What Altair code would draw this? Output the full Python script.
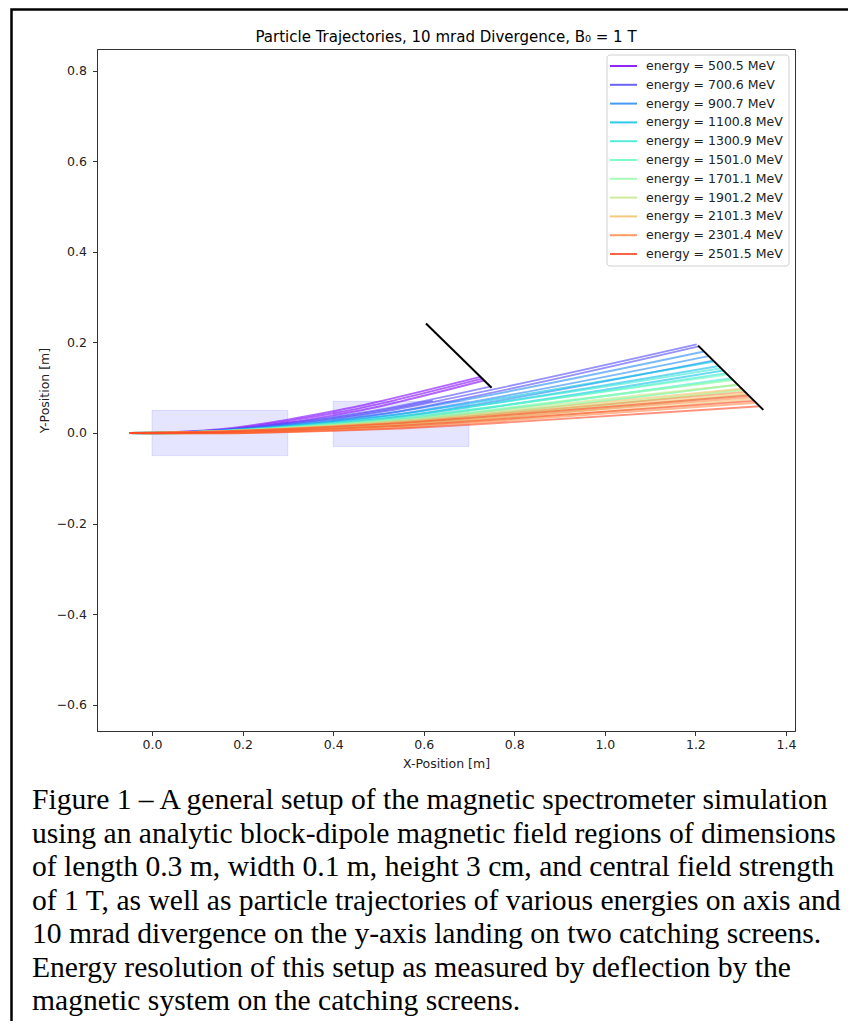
import altair as alt
import pandas as pd

# ---------------- data ----------------
ENERGY_LABELS = ["energy = 500.5 MeV", "energy = 700.6 MeV", "energy = 900.7 MeV",
                 "energy = 1100.8 MeV", "energy = 1300.9 MeV", "energy = 1501.0 MeV",
                 "energy = 1701.1 MeV", "energy = 1901.2 MeV", "energy = 2101.3 MeV",
                 "energy = 2301.4 MeV", "energy = 2501.5 MeV"]
ENERGY_COLORS = ["#8000ff", "#5148fc", "#238af5", "#0bc1e8", "#3ae8d6", "#68fcc1",
                 "#97fca7", "#c5e88a", "#f3c16a", "#ff8a48", "#ff4824"]

# low-energy rays (leave the field region, own x stations)
X_0500 = [[-0.05, 0.0, 0.15, 0.3, 0.4, 0.475, 0.5495, 0.733],
          [-0.05, 0.0, 0.15, 0.3, 0.4, 0.46, 0.526, 0.729],
          [-0.05, 0.0, 0.15, 0.3, 0.4, 0.45, 0.503, 0.725]]
Y_0500 = [[0.0, -0.0005, 0.0045, 0.0226, 0.039, 0.0529, 0.070, 0.116],
          [0.0, 0.0, 0.0065, 0.0261, 0.0435, 0.0550, 0.070, 0.120],
          [0.0, 0.0005, 0.0085, 0.0296, 0.048, 0.0579, 0.070, 0.1241]]
X_0700 = [[-0.05, 0.0, 0.15, 0.3, 0.4, 0.53, 0.659, 1.2075],
          [-0.05, 0.0, 0.15, 0.3, 0.4, 0.52, 0.627, 1.203],
          [-0.05, 0.0, 0.15, 0.3, 0.4, 0.5, 0.597, 0.747],
          [-0.05, 0.0, 0.15, 0.3, 0.4, 0.52, 0.62]]
Y_0700 = [[0.0, -0.0005, 0.0027, 0.0151, 0.0266, 0.0449, 0.070, 0.1914],
          [0.0, 0.0, 0.0047, 0.0186, 0.0311, 0.0490, 0.070, 0.1957],
          [0.0, 0.0005, 0.0067, 0.0221, 0.0356, 0.0511, 0.070, 0.1024],
          [0.0, 0.0002, 0.0055, 0.0200, 0.0330, 0.0520, 0.0715]]

# higher-energy rays: y at common stations, then the landing point on screen 2
STATION_X = [-0.05, 0.0, 0.15, 0.3, 0.4, 0.55, 0.7]
Y_0900 = [[0.0, -0.0005, 0.0016, 0.0110, 0.0197, 0.0363, 0.0602],
          [0.0, 0.0, 0.0036, 0.0145, 0.0242, 0.0423, 0.0677],
          [0.0, 0.0005, 0.0056, 0.0180, 0.0287, 0.0483, 0.0752]]
END_0900 = [(1.239, 0.160), (1.229, 0.170), (1.219, 0.180)]
Y_1100 = [[0.0, -0.0005, 0.0011, 0.0088, 0.0160, 0.0299, 0.0500],
          [0.0, 0.0, 0.0031, 0.0123, 0.0205, 0.0359, 0.0575],
          [0.0, 0.0005, 0.0051, 0.0158, 0.0250, 0.0419, 0.0650]]
END_1100 = [(1.262, 0.138), (1.252, 0.148), (1.241, 0.158)]
Y_1300 = [[0.0, -0.0005, 0.0007, 0.0073, 0.0135, 0.0255, 0.0428],
          [0.0, 0.0, 0.0027, 0.0108, 0.0180, 0.0315, 0.0503],
          [0.0, 0.0005, 0.0047, 0.0143, 0.0225, 0.0375, 0.0578]]
END_1300 = [(1.279, 0.121), (1.268, 0.132), (1.257, 0.143)]
Y_1501 = [[0.0, -0.0005, 0.0004, 0.0060, 0.0113, 0.0217, 0.0368],
          [0.0, 0.0, 0.0024, 0.0095, 0.0158, 0.0277, 0.0443],
          [0.0, 0.0005, 0.0044, 0.0130, 0.0203, 0.0337, 0.0518]]
END_1501 = [(1.293, 0.107), (1.282, 0.118), (1.271, 0.129)]
Y_1701 = [[0.0, -0.0005, 0.0001, 0.0049, 0.0095, 0.0186, 0.0318],
          [0.0, 0.0, 0.0021, 0.0084, 0.0140, 0.0246, 0.0393],
          [0.0, 0.0005, 0.0041, 0.0119, 0.0185, 0.0306, 0.0468]]
END_1701 = [(1.306, 0.095), (1.294, 0.106), (1.283, 0.117)]
Y_1901 = [[0.0, -0.0005, -0.0001, 0.0040, 0.0081, 0.0160, 0.0277],
          [0.0, 0.0, 0.0019, 0.0075, 0.0126, 0.0220, 0.0352],
          [0.0, 0.0005, 0.0039, 0.0110, 0.0171, 0.0280, 0.0427]]
END_1901 = [(1.316, 0.085), (1.304, 0.096), (1.293, 0.107)]
Y_2101 = [[0.0, -0.0005, -0.0003, 0.0033, 0.0068, 0.0138, 0.0241],
          [0.0, 0.0, 0.0017, 0.0068, 0.0113, 0.0198, 0.0316],
          [0.0, 0.0005, 0.0037, 0.0103, 0.0158, 0.0258, 0.0391]]
END_2101 = [(1.325, 0.075), (1.313, 0.087), (1.302, 0.098)]
Y_2301 = [[0.0, -0.0005, -0.0005, 0.0026, 0.0057, 0.0118, 0.0210],
          [0.0, 0.0, 0.0015, 0.0061, 0.0102, 0.0178, 0.0285],
          [0.0, 0.0005, 0.0035, 0.0096, 0.0147, 0.0238, 0.0360]]
END_2301 = [(1.334, 0.067), (1.322, 0.079), (1.310, 0.091)]
Y_2501 = [[0.0, -0.0005, -0.0006, 0.0019, 0.0046, 0.0099, 0.0179],
          [0.0, 0.0, 0.0014, 0.0054, 0.0091, 0.0159, 0.0254],
          [0.0, 0.0005, 0.0034, 0.0089, 0.0136, 0.0219, 0.0329]]
END_2501 = [(1.342, 0.059), (1.330, 0.071), (1.318, 0.083)]

# magnets (block dipoles) and catching screens
MAG_X0 = [0.0, 0.4]
MAG_X1 = [0.3, 0.7]
MAG_Y0 = [-0.05, -0.03]
MAG_Y1 = [0.05, 0.07]
SCREEN_X = [[0.605, 0.75], [1.206, 1.35]]
SCREEN_Y = [[0.242, 0.100], [0.193, 0.051]]

X_TICKS = [0.0, 0.2, 0.4, 0.6, 0.8, 1.0, 1.2, 1.4]
Y_TICKS = [-0.6, -0.4, -0.2, 0.0, 0.2, 0.4, 0.6, 0.8]

TITLE = "Particle Trajectories, 10 mrad Divergence, B\u2080 = 1 T"
CAPTION = [
    "Figure 1 \u2013 A general setup of the magnetic spectrometer simulation",
    "using an analytic block-dipole magnetic field regions of dimensions",
    "of length 0.3 m, width 0.1 m, height 3 cm, and central field strength",
    "of 1 T, as well as particle trajectories of various energies on axis and",
    "10 mrad divergence on the y-axis landing on two catching screens.",
    "Energy resolution of this setup as measured by deflection by the",
    "magnetic system on the catching screens.",
]

# ---------------- build tables ----------------
rows = []
ray_id = 0


def add_ray(label, xs, ys):
    global ray_id
    for i, (xv, yv) in enumerate(zip(xs, ys)):
        rows.append({"energy": label, "ray": ray_id, "i": i, "x": xv, "y": yv})
    ray_id += 1


for xs, ys in zip(X_0500, Y_0500):
    add_ray(ENERGY_LABELS[0], xs, ys)
for xs, ys in zip(X_0700, Y_0700):
    add_ray(ENERGY_LABELS[1], xs, ys)
regular = [(Y_0900, END_0900), (Y_1100, END_1100), (Y_1300, END_1300),
           (Y_1501, END_1501), (Y_1701, END_1701), (Y_1901, END_1901),
           (Y_2101, END_2101), (Y_2301, END_2301), (Y_2501, END_2501)]
for k, (ylist, ends) in enumerate(regular):
    for ys, (xe, ye) in zip(ylist, ends):
        add_ray(ENERGY_LABELS[k + 2], STATION_X + [xe], ys + [ye])
traj = pd.DataFrame(rows)

mags = pd.DataFrame({"x0": MAG_X0, "x1": MAG_X1, "y0": MAG_Y0, "y1": MAG_Y1})
scr_rows = []
for s, (xs, ys) in enumerate(zip(SCREEN_X, SCREEN_Y)):
    for xv, yv in zip(xs, ys):
        scr_rows.append({"s": s, "x": xv, "y": yv})
screens = pd.DataFrame(scr_rows)
legend_df = pd.DataFrame({"energy": ENERGY_LABELS, "row": list(range(len(ENERGY_LABELS)))})
one = pd.DataFrame({"t": ["\n".join(CAPTION)], "title": [TITLE]})

# ---------------- chart ----------------
xs_ = alt.Scale(domain=[-0.1215, 1.42], nice=False, zero=False)
ys_ = alt.Scale(domain=[-0.6585, 0.8485], nice=False, zero=False)
FONT = "DejaVu Sans"
color_scale = alt.Scale(domain=ENERGY_LABELS, range=ENERGY_COLORS)

x_axis = alt.Axis(values=X_TICKS, format=".1f", title="X-Position [m]", grid=False)
y_axis = alt.Axis(values=Y_TICKS, format=".1f", title="Y-Position [m]", grid=False)

mag_layer = alt.Chart(mags).mark_rect(
    fill="blue", fillOpacity=0.1, stroke="blue", strokeOpacity=0.1, strokeWidth=1
).encode(
    x=alt.X("x0:Q", scale=xs_, axis=x_axis), x2="x1:Q",
    y=alt.Y("y0:Q", scale=ys_, axis=y_axis), y2="y1:Q",
)

traj_layer = alt.Chart(traj).mark_line(
    strokeWidth=1.9, opacity=0.6, interpolate="monotone"
).encode(
    x=alt.X("x:Q", scale=xs_),
    y=alt.Y("y:Q", scale=ys_),
    color=alt.Color("energy:N", scale=color_scale, legend=None),
    detail="ray:N",
    order="i:Q",
)

screen_layer = alt.Chart(screens).mark_line(color="black", strokeWidth=2).encode(
    x=alt.X("x:Q", scale=xs_), y=alt.Y("y:Q", scale=ys_), detail="s:N"
)

plot = alt.layer(mag_layer, traj_layer, screen_layer)

# legend (matplotlib style box in the upper right corner)
row_y = alt.Y("row:Q", scale=alt.Scale(domain=[0, 10], range=[17, 205]), axis=None)
legend_box = alt.Chart(one).mark_rect(
    fill="white", stroke="#cccccc", strokeWidth=1, cornerRadius=3, opacity=0.9
).encode(x=alt.value(510), x2=alt.value(692), y=alt.value(6), y2=alt.value(217))
legend_sym = alt.Chart(legend_df).mark_rule(strokeWidth=2, opacity=0.85).encode(
    x=alt.value(513), x2=alt.value(540), y=row_y,
    color=alt.Color("energy:N", scale=color_scale, legend=None),
)
legend_txt = alt.Chart(legend_df).mark_text(
    font=FONT, fontSize=12.5, color="#222", align="left", baseline="middle"
).encode(x=alt.value(549), y=row_y, text="energy:N")
legend = alt.layer(legend_box, legend_sym, legend_txt)

frame_layer = alt.Chart(one).mark_rect(
    filled=False, stroke="black", strokeWidth=2.5
).encode(
    x=alt.value(-85.5), x2=alt.value(900), y=alt.value(-39.5), y2=alt.value(1100)
)

title_layer = alt.Chart(one).mark_text(
    font=FONT, fontSize=15, color="black", align="center", baseline="alphabetic"
).encode(x=alt.value(349), y=alt.value(-7), text="title:N")

caption_layer = alt.Chart(one).mark_text(
    font="Liberation Serif", fontSize=29.6, color="black", align="left",
    baseline="alphabetic", lineBreak="\n", lineHeight=33.5
).encode(x=alt.value(-65), y=alt.value(760), text="t:N")

chart = alt.layer(
    plot, legend, frame_layer, title_layer, caption_layer
).resolve_scale(
    y="independent"
).properties(
    width=698, height=682,
    background="white",
    autosize=alt.AutoSizeParams(type="none"),
    padding={"left": 89, "top": 41, "right": 53, "bottom": 290},
).configure_view(
    stroke="#333", strokeWidth=1
).configure_axis(
    labelFont=FONT, labelFontSize=12.5, labelColor="#222",
    titleFont=FONT, titleFontSize=12.5, titleFontWeight="normal", titleColor="#222",
    domainColor="#333", tickColor="#333", tickSize=4.5, labelPadding=3,
).configure_axisX(
    titlePadding=6
).configure_axisY(
    labelPadding=6, titlePadding=5
)

chart.save("out.html", embed_options={"renderer": "svg", "actions": False})
